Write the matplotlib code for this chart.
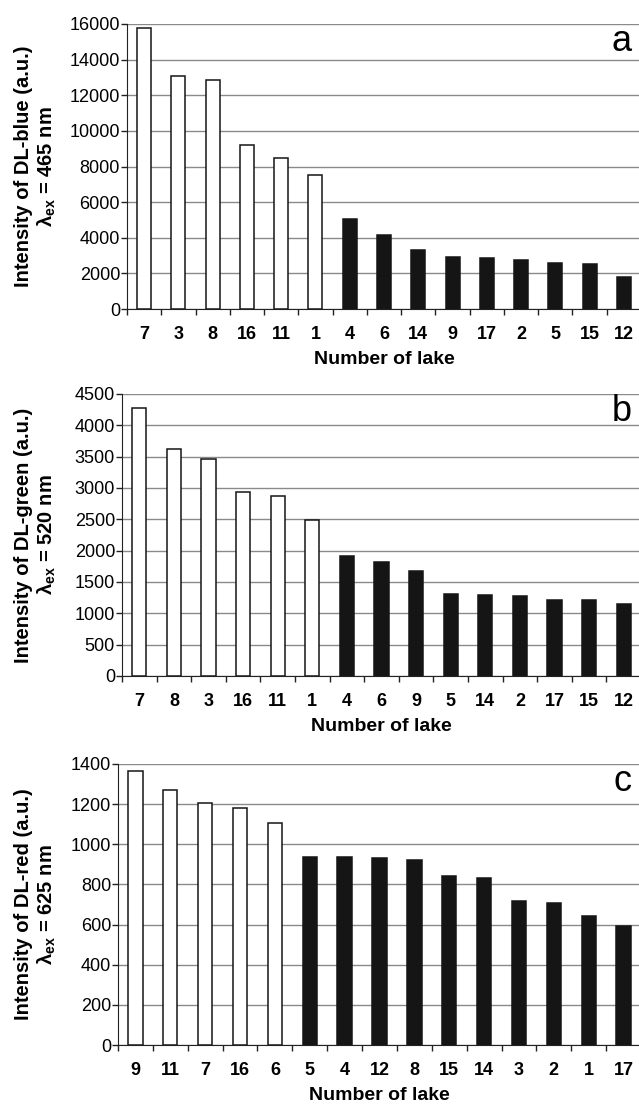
# Lake dissolved-luminescence intensities, three excitation wavelengths
import numpy as np
import matplotlib.pyplot as plt

plt.rcParams['font.family'] = ['Liberation Sans', 'DejaVu Sans']
plt.rcParams['mathtext.fontset'] = 'custom'
plt.rcParams['mathtext.rm'] = 'Liberation Sans'
plt.rcParams['mathtext.bf'] = 'Liberation Sans:bold'
plt.rcParams['mathtext.it'] = 'Liberation Sans:italic'

lakes_a = ["7", "3", "8", "16", "11", "1", "4", "6", "14", "9", "17", "2", "5", "15", "12"]
blue = [15800, 13100, 12850, 9200, 8450, 7550, 5050, 4150, 3300, 2900, 2870, 2750, 2580, 2550, 1820]
n_white_a = 6

lakes_b = ["7", "8", "3", "16", "11", "1", "4", "6", "9", "5", "14", "2", "17", "15", "12"]
green = [4280, 3630, 3470, 2930, 2880, 2490, 1920, 1820, 1680, 1310, 1300, 1270, 1220, 1220, 1150]
n_white_b = 6

lakes_c = ["9", "11", "7", "16", "6", "5", "4", "12", "8", "15", "14", "3", "2", "1", "17"]
red = [1365, 1268, 1208, 1180, 1105, 937, 935, 932, 920, 840, 832, 716, 705, 645, 592]
n_white_c = 5

panels = [
    (lakes_a, blue, n_white_a, 16000, 2000, "DL-blue", "465", "a"),
    (lakes_b, green, n_white_b, 4500, 500, "DL-green", "520", "b"),
    (lakes_c, red, n_white_c, 1400, 200, "DL-red", "625", "c"),
]

W, H = 639, 1106
fig = plt.figure(figsize=(W / 100, H / 100), dpi=100)

# axes boxes in pixels: left, top, bottom (right runs just past the edge)
boxes = [(127, 24, 309), (122, 394, 676), (118, 764, 1045)]
right = 641

for (lakes, vals, nw, ymax, step, name, wl, letter), (l, t, b) in zip(panels, boxes):
    ax = fig.add_axes([l / W, 1 - b / H, (right - l) / W, (b - t) / H])
    x = np.arange(len(lakes))
    colors = ["white"] * nw + ["#151515"] * (len(lakes) - nw)
    ax.bar(x, vals, width=0.41, color=colors, edgecolor="#151515", linewidth=1.1, zorder=3)
    ax.set_xlim(-0.5, len(lakes) - 0.5)
    ax.set_ylim(0, ymax)
    ax.set_yticks(np.arange(0, ymax + 1, step))
    ax.yaxis.grid(True, color="#8a8a8a", linewidth=1.0, zorder=0)
    ax.set_xticks(x)
    ax.set_xticklabels(lakes, fontsize=13, fontweight="bold")
    ax.set_xticks(np.arange(-0.5, len(lakes)), minor=True)
    ax.tick_params(axis="x", which="major", length=0, pad=12)
    ax.tick_params(axis="x", which="minor", length=4, width=1, color="#222222")
    ax.tick_params(axis="y", length=4, width=1, color="#222222", labelsize=13, pad=1)
    for s in ["top", "right"]:
        ax.spines[s].set_visible(False)
    ax.spines["left"].set_color("#222222")
    ax.spines["bottom"].set_color("#222222")
    ax.set_xlabel("Number of lake", fontsize=14, fontweight="bold", labelpad=6)
    fig.text(36 / W, 1 - (t + b) / 2 / H,
             "Intensity of %s (a.u.)\n$\\mathbf{\\lambda_{ex}}$ = %s nm" % (name, wl),
             rotation=90, ha="center", va="center", fontsize=14.5, fontweight="bold",
             linespacing=1.15)
    ax.text(0.982, 0.905, letter, transform=ax.transAxes, ha="right", va="baseline", fontsize=26)

fig.savefig("out.png", dpi=100)
